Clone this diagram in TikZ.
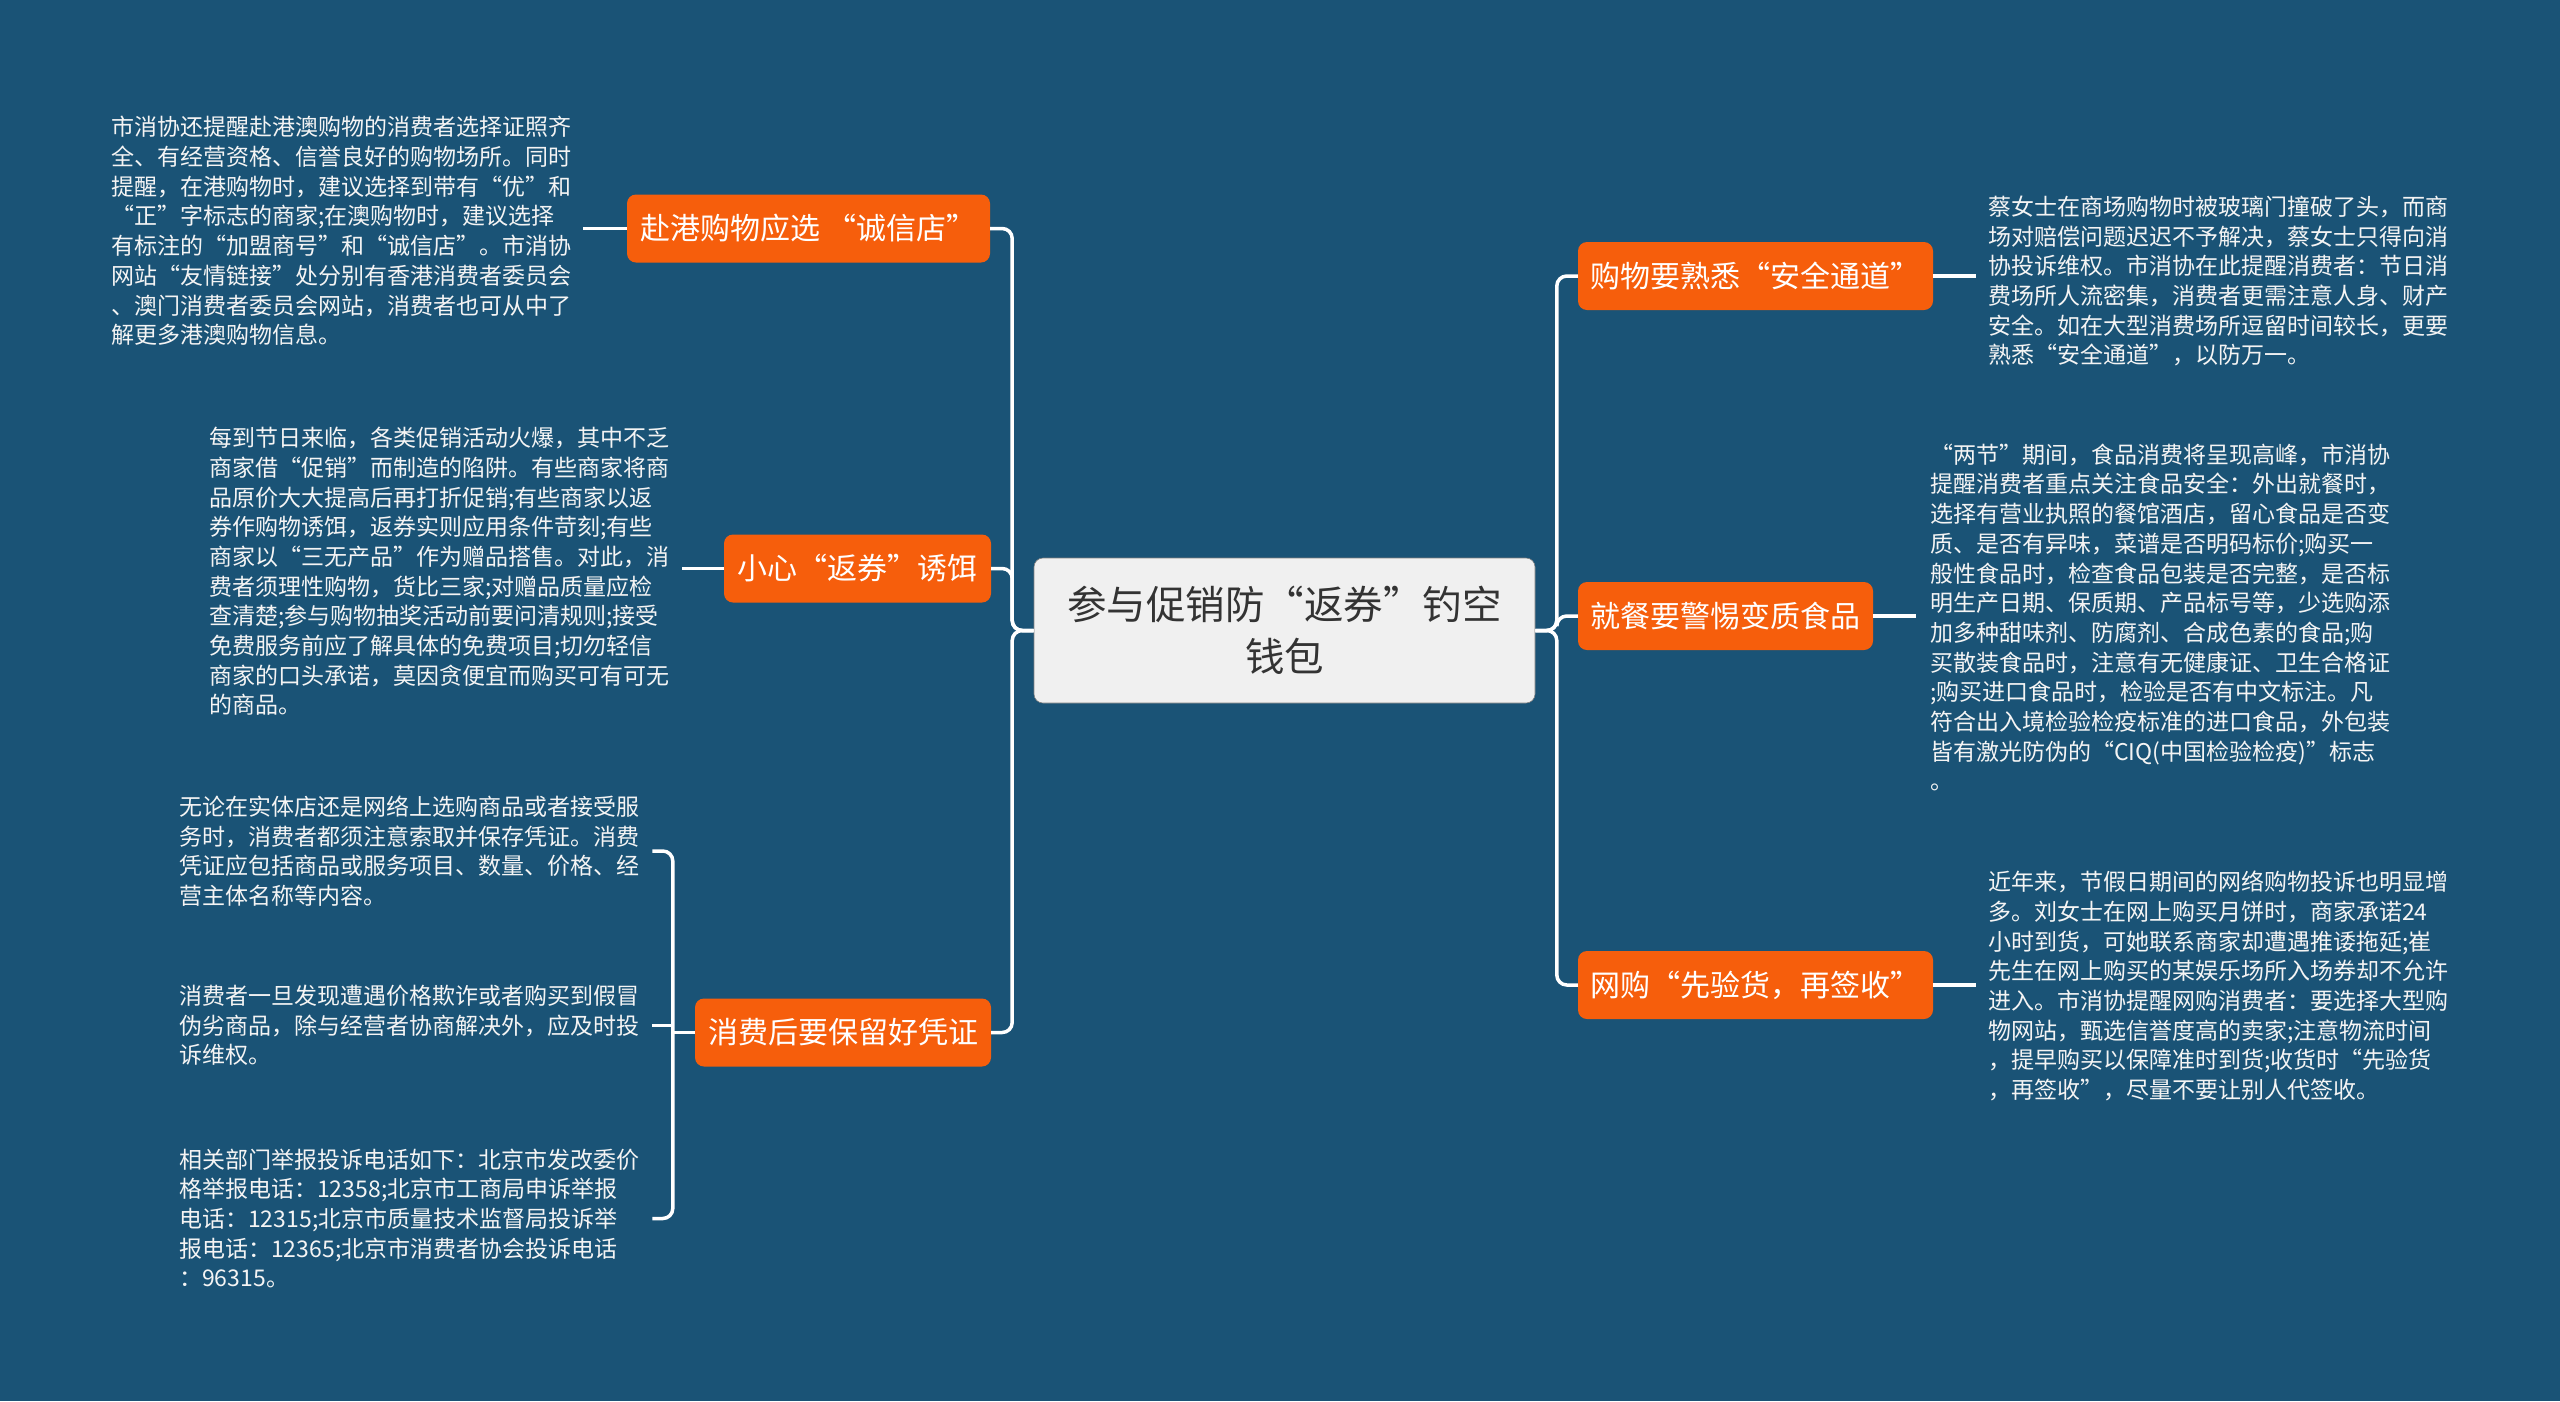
\documentclass[tikz,border=0pt]{standalone}
\usepackage{fontspec}
\setmainfont{Noto Sans CJK SC}
\definecolor{bg}{HTML}{1A5376}
\definecolor{org}{HTML}{F65E0C}
\definecolor{rootfill}{HTML}{F0F0F0}
\definecolor{roottext}{HTML}{333333}
\definecolor{leaftext}{HTML}{F4F4F4}
\begin{document}
\begin{tikzpicture}[x=1pt,y=-1pt,
  rootbox/.style={fill=rootfill,rounded corners=9pt,inner sep=0pt,text=roottext,
    font=\fontsize{39.5}{52}\selectfont,align=center,draw=black!50,line width=0.6pt},
  branch/.style={fill=org,rounded corners=9pt,inner sep=0pt,text=white,
    font=\fontsize{30}{36}\selectfont,minimum height=68pt},
  leaf/.style={anchor=west,inner sep=0pt,text=leaftext,align=left,text width=460pt,
    font=\fontsize{23}{29.7}\selectfont},
  conn/.style={draw=white,line width=3.5pt,rounded corners=10pt}]
\fill[bg] (0,0) rectangle (2560,1401);
\useasboundingbox (0,0) rectangle (2560,1401);

% root
\node[rootbox,minimum width=501pt,minimum height=145pt] (root) at (1284.5,630.5) {参与促销防“返券”钓空\\钱包};

% branches
\node[branch,minimum width=363pt] (A) at (808.5,228.5) {赴港购物应选 “诚信店”};
\node[branch,minimum width=267pt] (B) at (857.5,568.5) {小心“返券”诱饵};
\node[branch,minimum width=296pt] (C) at (843,1032.5) {消费后要保留好凭证};
\node[branch,minimum width=355pt] (D) at (1755.5,276) {购物要熟悉“安全通道”};
\node[branch,minimum width=295pt] (E) at (1725.5,616) {就餐要警惕变质食品};
\node[branch,minimum width=355pt] (F) at (1755.5,985) {网购“先验货，再签收”};

% leaves
\node[leaf] (a1) at (111,231) {市消协还提醒赴港澳购物的消费者选择证照齐\\
全、有经营资格、信誉良好的购物场所。同时\\
提醒，在港购物时，建议选择到带有“优”和\\
“正”字标志的商家;在澳购物时，建议选择\\
有标注的“加盟商号”和“诚信店”。市消协\\
网站“友情链接”处分别有香港消费者委员会\\
、澳门消费者委员会网站，消费者也可从中了\\
解更多港澳购物信息。};

\node[leaf] (b1) at (209,571.5) {每到节日来临，各类促销活动火爆，其中不乏\\
商家借“促销”而制造的陷阱。有些商家将商\\
品原价大大提高后再打折促销;有些商家以返\\
券作购物诱饵，返券实则应用条件苛刻;有些\\
商家以“三无产品”作为赠品搭售。对此，消\\
费者须理性购物，货比三家;对赠品质量应检\\
查清楚;参与购物抽奖活动前要问清规则;接受\\
免费服务前应了解具体的免费项目;切勿轻信\\
商家的口头承诺，莫因贪便宜而购买可有可无\\
的商品。};

\node[leaf] (c1) at (179,851) {无论在实体店还是网络上选购商品或者接受服\\
务时，消费者都须注意索取并保存凭证。消费\\
凭证应包括商品或服务项目、数量、价格、经\\
营主体名称等内容。};

\node[leaf] (c2) at (179,1025.5) {消费者一旦发现遭遇价格欺诈或者购买到假冒\\
伪劣商品，除与经营者协商解决外，应及时投\\
诉维权。};

\node[leaf] (c3) at (179,1218.5) {相关部门举报投诉电话如下：北京市发改委价\\
格举报电话：12358;北京市工商局申诉举报\\
电话：12315;北京市质量技术监督局投诉举\\
报电话：12365;北京市消费者协会投诉电话\\
：96315。};

\node[leaf] (d1) at (1988,281) {蔡女士在商场购物时被玻璃门撞破了头，而商\\
场对赔偿问题迟迟不予解决，蔡女士只得向消\\
协投诉维权。市消协在此提醒消费者：节日消\\
费场所人流密集，消费者更需注意人身、财产\\
安全。如在大型消费场所逗留时间较长，更要\\
熟悉“安全通道”，以防万一。};

\node[leaf] (e1) at (1930,617.5) {“两节”期间，食品消费将呈现高峰，市消协\\
提醒消费者重点关注食品安全：外出就餐时，\\
选择有营业执照的餐馆酒店，留心食品是否变\\
质、是否有异味，菜谱是否明码标价;购买一\\
般性食品时，检查食品包装是否完整，是否标\\
明生产日期、保质期、产品标号等，少选购添\\
加多种甜味剂、防腐剂、合成色素的食品;购\\
买散装食品时，注意有无健康证、卫生合格证\\
;购买进口食品时，检验是否有中文标注。凡\\
符合出入境检验检疫标准的进口食品，外包装\\
皆有激光防伪的“CIQ(中国检验检疫)”标志\\
。};

\node[leaf] (f1) at (1988,986) {近年来，节假日期间的网络购物投诉也明显增\\
多。刘女士在网上购买月饼时，商家承诺24\\
小时到货，可她联系商家却遭遇推诿拖延;崔\\
先生在网上购买的某娱乐场所入场券却不允许\\
进入。市消协提醒网购消费者：要选择大型购\\
物网站，甄选信誉度高的卖家;注意物流时间\\
，提早购买以保障准时到货;收货时“先验货\\
，再签收”，尽量不要让别人代签收。};

% trunk coordinates
\coordinate (LT) at ([xshift=-21.5pt]root.west);
\coordinate (RT) at ([xshift=21.5pt]root.east);
\coordinate (CT) at ([xshift=-22pt]C.west);

% root connectors
\draw[conn] (root.west) -- (LT) |- (A.east);
\draw[conn] (root.west) -- (LT) |- (B.east);
\draw[conn] (root.west) -- (LT) |- (C.east);
\draw[conn] (root.east) -- (RT) |- (D.west);
\draw[conn] (root.east) -- (RT) |- (E.west);
\draw[conn] (root.east) -- (RT) |- (F.west);

% leaf connectors
\coordinate (a1e) at ([xshift=12pt]a1.east);
\coordinate (b1e) at ([xshift=13pt]b1.east);
\coordinate (d1w) at ([xshift=-12pt]d1.west);
\coordinate (e1w) at ([xshift=-14pt]e1.west);
\coordinate (f1w) at ([xshift=-12pt]f1.west);
\draw[conn] (A.west) -- (a1e |- A.west);
\draw[conn] (B.west) -- (b1e |- B.west);
\draw[conn] (D.east) -- (d1w |- D.east);
\draw[conn] (E.east) -- (e1w |- E.east);
\draw[conn] (F.east) -- (f1w |- F.east);

\coordinate (c1e) at ([xshift=13pt]c1.east);
\coordinate (c2e) at ([xshift=13pt]c2.east);
\coordinate (c3e) at ([xshift=13pt]c3.east);
\draw[conn] (c1e) -| (CT) |- (c3e);
\draw[conn] (c2e) -- (c2e -| CT);
\draw[conn] (C.west) -- (CT);
\end{tikzpicture}
\end{document}
